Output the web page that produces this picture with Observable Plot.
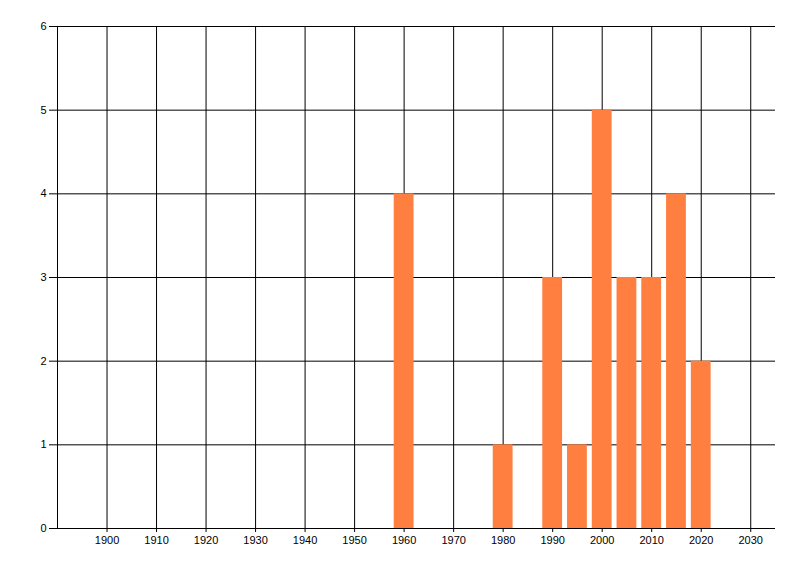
<!DOCTYPE html>
<html>
<head>
<meta charset="utf-8">
<script src="https://cdn.jsdelivr.net/npm/d3@7"></script>
<script src="https://cdn.jsdelivr.net/npm/@observablehq/plot@0.6"></script>
<style>
  body { margin: 0; background: #fff; }
  #chart svg { display: block; }
</style>
</head>
<body>
<div id="chart"></div>
<script>
// values
const years = [1960, 1980, 1990, 1995, 2000, 2005, 2010, 2015, 2020];
const counts = [4, 1, 3, 1, 5, 3, 3, 4, 2];
const xTicks = [1900, 1910, 1920, 1930, 1940, 1950, 1960, 1970, 1980, 1990, 2000, 2010, 2020, 2030];
const yTicks = [0, 1, 2, 3, 4, 5, 6];

const halfWidth = 2; // bars are about 4 years wide
const rows = years.map((year, i) => ({year, count: counts[i]}));

const plot = Plot.plot({
  width: 800,
  height: 576,
  marginLeft: 57,
  marginRight: 25,
  marginTop: 26,
  marginBottom: 48,
  style: {fontFamily: "'Liberation Sans', Arial, sans-serif", fontSize: "11px", color: "#000", background: "#fff"},
  x: {domain: [1890, 2035], label: null},
  y: {domain: [0, 6], label: null},
  marks: [
    Plot.gridX(xTicks, {stroke: "#000", strokeOpacity: 1}),
    Plot.gridY(yTicks, {stroke: "#000", strokeOpacity: 1}),
    Plot.rectY(rows, {
      x1: d => d.year - halfWidth,
      x2: d => d.year + halfWidth,
      y: "count",
      fill: "#ff7f40"
    }),
    Plot.ruleX([1890], {stroke: "#000"}),
    Plot.ruleY([0], {stroke: "#000"}),
    Plot.axisY(yTicks, {tickSize: 8, tickPadding: 3, stroke: "#000", fill: "#000", tickFormat: d => String(d)}),
    Plot.axisX(xTicks, {tickSize: 4, tickPadding: 4, stroke: "#000", fill: "#000", tickFormat: d => String(d)})
  ]
});

document.querySelector("#chart").append(plot);
</script>
</body>
</html>
